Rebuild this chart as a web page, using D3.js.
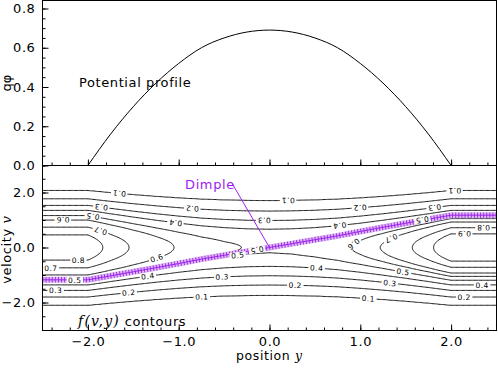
<!DOCTYPE html>
<html>
<head>
<meta charset="utf-8">
<script src="https://cdn.jsdelivr.net/npm/d3@7"></script>
<style>
  body { margin: 0; background: #fff; }
  svg text { font-family: "DejaVu Sans", sans-serif; }
</style>
</head>
<body>
<script>
// potential profile q*phi(y)
var potY   = [-2, -1.75, -1.5, -1.25, -1, -0.75, -0.5, -0.25, 0, 0.25, 0.5, 0.75, 1, 1.25, 1.5, 1.75, 2];
var potPhi = [0, 0.16, 0.30, 0.42, 0.52, 0.60, 0.65, 0.68, 0.69, 0.68, 0.65, 0.60, 0.52, 0.42, 0.30, 0.16, 0];

// distribution far away: coming in from the left (v>0) and from the right (v<0), vs |v|
var vLeft  = [0, 0.25, 0.46, 0.74, 1.0, 1.16, 1.35, 1.53, 1.77, 2.07, 2.5, 3.2, 4];
var fLeft  = [0.87, 0.85, 0.8, 0.7, 0.6, 0.5, 0.4, 0.3, 0.2, 0.1, 0.04, 0.01, 0];
var vRight = [0, 0.25, 0.5, 0.72, 0.93, 1.05, 1.19, 1.36, 1.56, 1.8, 2.1, 2.6, 4];
var fRight = [0.97, 0.95, 0.9, 0.8, 0.7, 0.6, 0.5, 0.4, 0.3, 0.2, 0.1, 0.03, 0];

var levels = [0.1, 0.2, 0.3, 0.4, 0.5, 0.6, 0.7, 0.8, 0.9];
var phiTicks = [0, 0.2, 0.4, 0.6, 0.8];
var yTicks = [-2, -1, 0, 1, 2];
var vTicks = [-2, 0, 2];

// where the contour labels sit: [level, y, v] (snapped onto the line below)
var labelSpots = [
  [0.1, -1.66, 2.01], [0.3, -1.86, 1.47], [0.5, -1.95, 1.13], [0.6, -2.28, 0.95], [0.7, -1.86, 0.64],
  [0.4, -1.03, 0.92], [0.2, -0.85, 1.45], [0.8, -2.1, -0.69], [0.7, -2.41, -0.84], [0.5, -2.14, -1.2],
  [0.6, -1.23, -0.53], [0.4, -1.33, -1.12], [0.3, -2.36, -1.58], [0.2, -1.55, -1.7],
  [0.1, 0.2, 1.75], [0.3, -0.06, 0.99], [0.5, -0.15, 0.08], [0.5, -0.35, -0.25], [0.4, 0.52, -0.76],
  [0.3, -0.52, -1.1], [0.2, 0.29, -1.39], [0.1, -0.74, -1.88],
  [0.1, 2.04, 2.08], [0.2, 0.99, 1.48], [0.3, 1.82, 1.44], [0.4, 0.77, 0.87], [0.5, 1.68, 1.05],
  [0.6, 0.92, 0.15], [0.7, 1.34, 0.33], [0.8, 2.35, 0.66], [0.9, 2.15, 0.45], [0.5, 1.47, -0.98],
  [0.3, 1.33, -1.35], [0.4, 2.34, -1.39], [0.2, 2.14, -1.82], [0.1, 1.09, -1.98]
];

var W = 498, H = 370;
var svg = d3.select("body").append("svg").attr("width", W).attr("height", H);

var x = d3.scaleLinear().domain([-2.5, 2.5]).range([42.5, 496.5]);
var yPhi = d3.scaleLinear().domain([0, 0.8]).range([165.5, 8.5]);
var yV = d3.scaleLinear().domain([-2, 2]).range([302.5, 192.5]);

var phiAt = d3.scaleLinear().domain(potY).range(potPhi).clamp(true);
var fL = d3.scaleLinear().domain(vLeft).range(fLeft).clamp(true);
var fR = d3.scaleLinear().domain(vRight).range(fRight).clamp(true);
var phiMax = d3.max(potPhi);

// f is carried along orbits v^2/2 + phi = const from whichever side they come
function field(y, v) {
  var w = v * v / 2 + phiAt(y);
  var u = Math.sqrt(2 * w);
  if (w >= phiMax) return v >= 0 ? fL(u) : fR(u);
  return y < 0 ? fL(u) : fR(u);
}

// ---------- top panel ----------
var topG = svg.append("g");

topG.append("path")
  .datum(potY.map(function(d, i) { return [d, potPhi[i]]; }))
  .attr("fill", "none").attr("stroke", "#000").attr("stroke-width", 1)
  .attr("d", d3.line().x(function(d) { return x(d[0]); }).y(function(d) { return yPhi(d[1]); })
    .curve(d3.curveMonotoneX));

topG.append("text").attr("x", 79).attr("y", 87)
  .attr("font-size", 13).attr("letter-spacing", 0.6).text("Potential profile");

function styleAxis(g) {
  g.select(".domain").remove();
  g.selectAll("line").attr("stroke", "#000");
  g.selectAll("text").attr("font-family", "DejaVu Sans").attr("font-size", 13)
    .attr("letter-spacing", 0.6).attr("fill", "#000");
}

// x ticks of the top panel (no labels)
topG.append("g").attr("transform", "translate(0,165.5)")
  .call(d3.axisBottom(x).tickValues(d3.range(-24, 25, 2).map(function(d) { return d / 10; }))
    .tickSize(-3).tickFormat(""))
  .call(styleAxis);
topG.append("g").attr("transform", "translate(0,165.5)")
  .call(d3.axisBottom(x).tickValues(yTicks).tickSize(-6).tickFormat(""))
  .call(styleAxis);

topG.append("g").attr("transform", "translate(42.5,0)")
  .call(d3.axisLeft(yPhi).tickValues(d3.range(0, 17).map(function(d) { return d * 0.05; }))
    .tickSize(-3).tickFormat(""))
  .call(styleAxis);
topG.append("g").attr("transform", "translate(42.5,0)")
  .call(d3.axisLeft(yPhi).tickValues(phiTicks).tickSize(-6).tickPadding(7).tickFormat(d3.format(".1f")))
  .call(styleAxis);

topG.append("rect").attr("x", 42.5).attr("y", 0.5).attr("width", 454).attr("height", 165)
  .attr("fill", "none").attr("stroke", "#000");

topG.append("text").attr("transform", "translate(11,83) rotate(-90)")
  .attr("text-anchor", "middle").attr("font-size", 13).text("q\u03c6");

// ---------- bottom panel: contours of f(v,y) ----------
var botG = svg.append("g");
svg.append("clipPath").attr("id", "clipB").append("rect")
  .attr("x", 42.5).attr("y", 165.5).attr("width", 454).attr("height", 165);

var nx = 380, ny = 240;
var yMin = -2.5, yMax = 2.5, vMax = yV.invert(164), vMin = yV.invert(332);
var dy = (yMax - yMin) / (nx - 1), dv = (vMax - vMin) / (ny - 1);
var values = new Array(nx * ny);
for (var j = 0; j < ny; j++) {
  for (var i = 0; i < nx; i++) {
    values[i + j * nx] = field(yMin + i * dy, vMax - j * dv);
  }
}
function gx(c) { return x(yMin + (c - 0.5) * dy); }
function gy(c) { return yV(vMax - (c - 0.5) * dv); }

var contours = d3.contours().size([nx, ny]).thresholds(levels)(values);
var gridPath = d3.geoPath(d3.geoTransform({
  point: function(a, b) { this.stream.point(gx(a), gy(b)); }
}));

var cg = botG.append("g").attr("clip-path", "url(#clipB)");
cg.selectAll("path.c").data(contours).enter().append("path")
  .attr("class", "c").attr("d", gridPath)
  .attr("fill", "none").attr("stroke", "#000").attr("stroke-width", 0.9);

// separatrix dimple (rising branch)
var sepY = [-2.5].concat(potY, [2.5]);
var sep = sepY.map(function(d) {
  var s = d < 0 ? -1 : 1;
  return [d, s * Math.sqrt(2 * Math.max(0, phiMax - phiAt(d)))];
});
var sepLine = d3.line().x(function(d) { return x(d[0]); }).y(function(d) { return yV(d[1]); });
cg.append("path").datum(sep).attr("d", sepLine).attr("fill", "none")
  .attr("stroke", "#dfb4f7").attr("stroke-width", 6);
cg.append("path").datum(sep).attr("d", sepLine).attr("fill", "none")
  .attr("stroke", "#8f2fd6").attr("stroke-width", 5.5).attr("stroke-dasharray", "0.9 2.2");
cg.append("path").datum(sep).attr("d", sepLine).attr("fill", "none")
  .attr("stroke", "#a020f0").attr("stroke-width", 1);

// contour labels
var lg = botG.append("g").attr("clip-path", "url(#clipB)");
labelSpots.forEach(function(s) {
  var c = contours.find(function(d) { return Math.abs(d.value - s[0]) < 1e-9; });
  if (!c) return;
  var px0 = x(s[1]), py0 = yV(s[2]);
  var best = null, bd = Infinity;
  c.coordinates.forEach(function(poly) {
    poly.forEach(function(ring) {
      for (var k = 1; k < ring.length - 1; k++) {
        var qx = gx(ring[k][0]), qy = gy(ring[k][1]);
        var dd = (qx - px0) * (qx - px0) + (qy - py0) * (qy - py0);
        if (dd < bd) { bd = dd; best = { ring: ring, k: k, x: qx, y: qy }; }
      }
    });
  });
  if (!best) return;
  var r = best.ring, k = best.k;
  var a = r[Math.max(0, k - 2)], b = r[Math.min(r.length - 1, k + 2)];
  var tx = gx(b[0]) - gx(a[0]), ty = gy(b[1]) - gy(a[1]);
  // walk with the higher values on the left
  var h = 5, yy = x.invert(best.x), vv = yV.invert(best.y);
  var fxg = field(x.invert(best.x + h), vv) - field(x.invert(best.x - h), vv);
  var fyg = field(yy, yV.invert(best.y + h)) - field(yy, yV.invert(best.y - h));
  if (-fyg * tx + fxg * ty < 0) { tx = -tx; ty = -ty; }
  var ang = Math.atan2(ty, tx) * 180 / Math.PI;
  var g = lg.append("g").attr("transform", "translate(" + best.x + "," + best.y + ") rotate(" + ang + ")");
  var rc = g.append("rect").attr("fill", "#fff");
  var t = g.append("text").attr("text-anchor", "middle").attr("dy", "0.36em")
    .attr("font-size", 7.5).attr("letter-spacing", 0.5).text(d3.format(".1f")(s[0]));
  var tw = t.node().getComputedTextLength();
  rc.attr("x", -tw / 2 - 1.5).attr("y", -3.2).attr("width", tw + 3).attr("height", 6.4);
});

// axes of bottom panel
botG.append("g").attr("transform", "translate(0,330.5)")
  .call(d3.axisBottom(x).tickValues(d3.range(-24, 25, 2).map(function(d) { return d / 10; }))
    .tickSize(-3).tickFormat(""))
  .call(styleAxis);
botG.append("g").attr("transform", "translate(0,330.5)")
  .call(d3.axisBottom(x).tickValues(yTicks).tickSize(-6).tickPadding(6).tickFormat(d3.format(".1f")))
  .call(styleAxis);
botG.append("g").attr("transform", "translate(42.5,0)")
  .call(d3.axisLeft(yV).tickValues(d3.range(-6, 7).map(function(d) { return d * 0.5; }))
    .tickSize(-3).tickFormat(""))
  .call(styleAxis);
botG.append("g").attr("transform", "translate(42.5,0)")
  .call(d3.axisLeft(yV).tickValues(vTicks).tickSize(-6).tickPadding(7).tickFormat(d3.format(".1f")))
  .call(styleAxis);

botG.append("rect").attr("x", 42.5).attr("y", 165.5).attr("width", 454).attr("height", 165)
  .attr("fill", "none").attr("stroke", "#000");

// annotations
botG.append("text").attr("x", x(-0.93)).attr("y", yV(2.14))
  .attr("font-size", 13).attr("letter-spacing", 0.6).attr("fill", "#a020f0").text("Dimple");
botG.append("line")
  .attr("x1", x(-0.41)).attr("y1", yV(2.32)).attr("x2", x(0)).attr("y2", yV(0))
  .attr("stroke", "#a020f0").attr("stroke-width", 1);

var ft = botG.append("text").attr("x", 78).attr("y", 326).attr("font-size", 13);
ft.append("tspan").attr("font-family", "DejaVu Serif").attr("font-style", "italic")
  .attr("font-size", 14).attr("letter-spacing", 1.2).text("f(v,y)");
ft.append("tspan").attr("letter-spacing", 0.6).text(" contours");

var xl = svg.append("text").attr("x", 269).attr("y", 360).attr("text-anchor", "middle").attr("font-size", 12.5);
xl.append("tspan").attr("letter-spacing", 0.6).text("position ");
xl.append("tspan").attr("font-family", "DejaVu Serif").attr("font-style", "italic").text("y");

var yl = svg.append("text").attr("transform", "translate(11,250) rotate(-90)")
  .attr("text-anchor", "middle").attr("font-size", 13);
yl.append("tspan").attr("letter-spacing", 0.6).text("velocity ");
yl.append("tspan").attr("font-family", "DejaVu Serif").attr("font-style", "italic").text("v");
</script>
</body>
</html>
